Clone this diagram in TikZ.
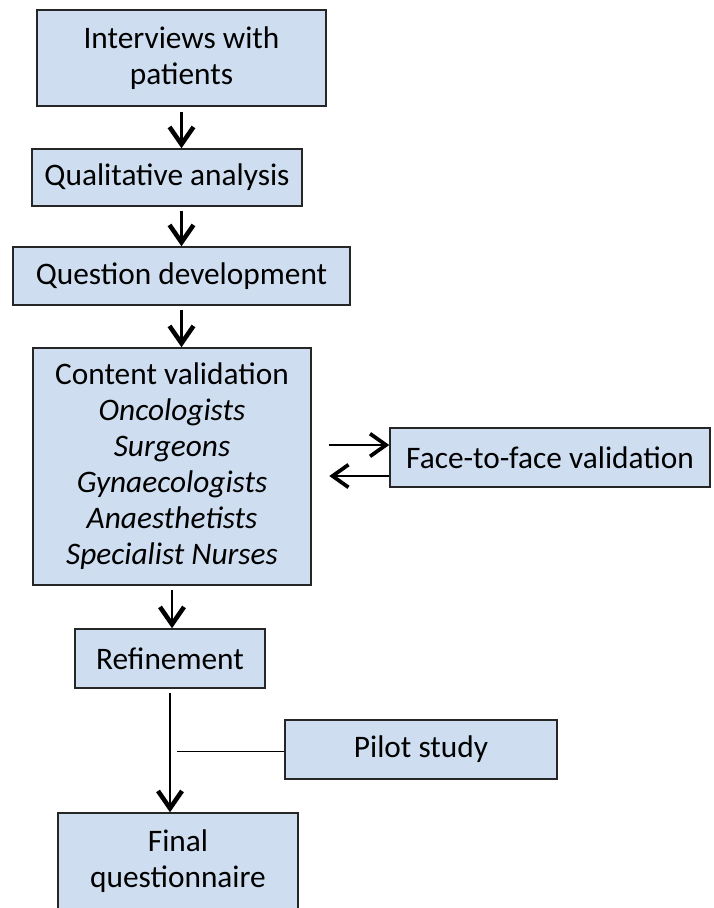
\documentclass[tikz,border=0pt]{standalone}
\usepackage{fontspec}
\setmainfont{Carlito}
\usetikzlibrary{arrows.meta}
\definecolor{stageblue}{RGB}{206,222,240}

\begin{document}
\begin{tikzpicture}[x=0.75pt, y=-0.75pt,
			stage/.style 2 args={draw=black!85, fill=stageblue, line width=1.1pt, inner sep=0pt, align=center,
				minimum width=#1*0.75pt, minimum height=#2*0.75pt, font=\fontsize{23.5}{27}\selectfont},
			>={Straight Barb[length=13pt, width=18pt, line width=3.4pt]},   %default tips for the main flow
			flow/.style={->, line width=1.9pt},
			side/.style={-{Straight Barb[length=12pt, width=17pt, line width=2.8pt]}, line width=1.4pt}]
			\useasboundingbox (0,0) rectangle (714,908);
			\node[stage={289}{96}] (interviews) at (181.5,58) {Interviews with\\patients};
			\node[stage={270}{57}] (qual) at (167,177.5) {Qualitative analysis};
			\node[stage={337}{58}] (qdev) at (181.5,276) {Question development};
			\node[stage={278}{237}] (cval) at (172,466.5) {Content validation\\\textit{Oncologists}\\\textit{Surgeons}\\\textit{Gynaecologists}\\\textit{Anaesthetists}\\\textit{Specialist Nurses}};
			\node[stage={320}{59}] (face) at (550,457.5) {Face-to-face validation};
			\node[stage={190}{59}] (refine) at (170,658.5) {Refinement};
			\node[stage={272}{59}] (pilot) at (421,749.5) {Pilot study};
			\node[stage={240}{96}] (final) at (178,861) {Final\\questionnaire};
			\draw[flow] ([yshift=-4pt]interviews.south) -- (interviews.south |- qual.north);
			\draw[flow] ([yshift=-3pt]qual.south -| qdev.north) -- (qdev.north);
			\draw[flow] ([yshift=-3pt]qdev.south) -- (qdev.south |- cval.north);
			\draw[flow] ([yshift=-3pt]cval.south) -- (cval.south |- refine.north);
			\draw[flow] ([yshift=-3pt]refine.south) -- (refine.south |- final.north);
			\draw[side] (face.west) ++(-60,-12.5) -- ++(60,0);
			\draw[side] (face.west) ++(0,18.5) -- ++(-60,0);
			\draw[line width=1pt] (pilot.west) ++(0,2) -- ++(-107,0);
		\end{tikzpicture}
\end{document}
